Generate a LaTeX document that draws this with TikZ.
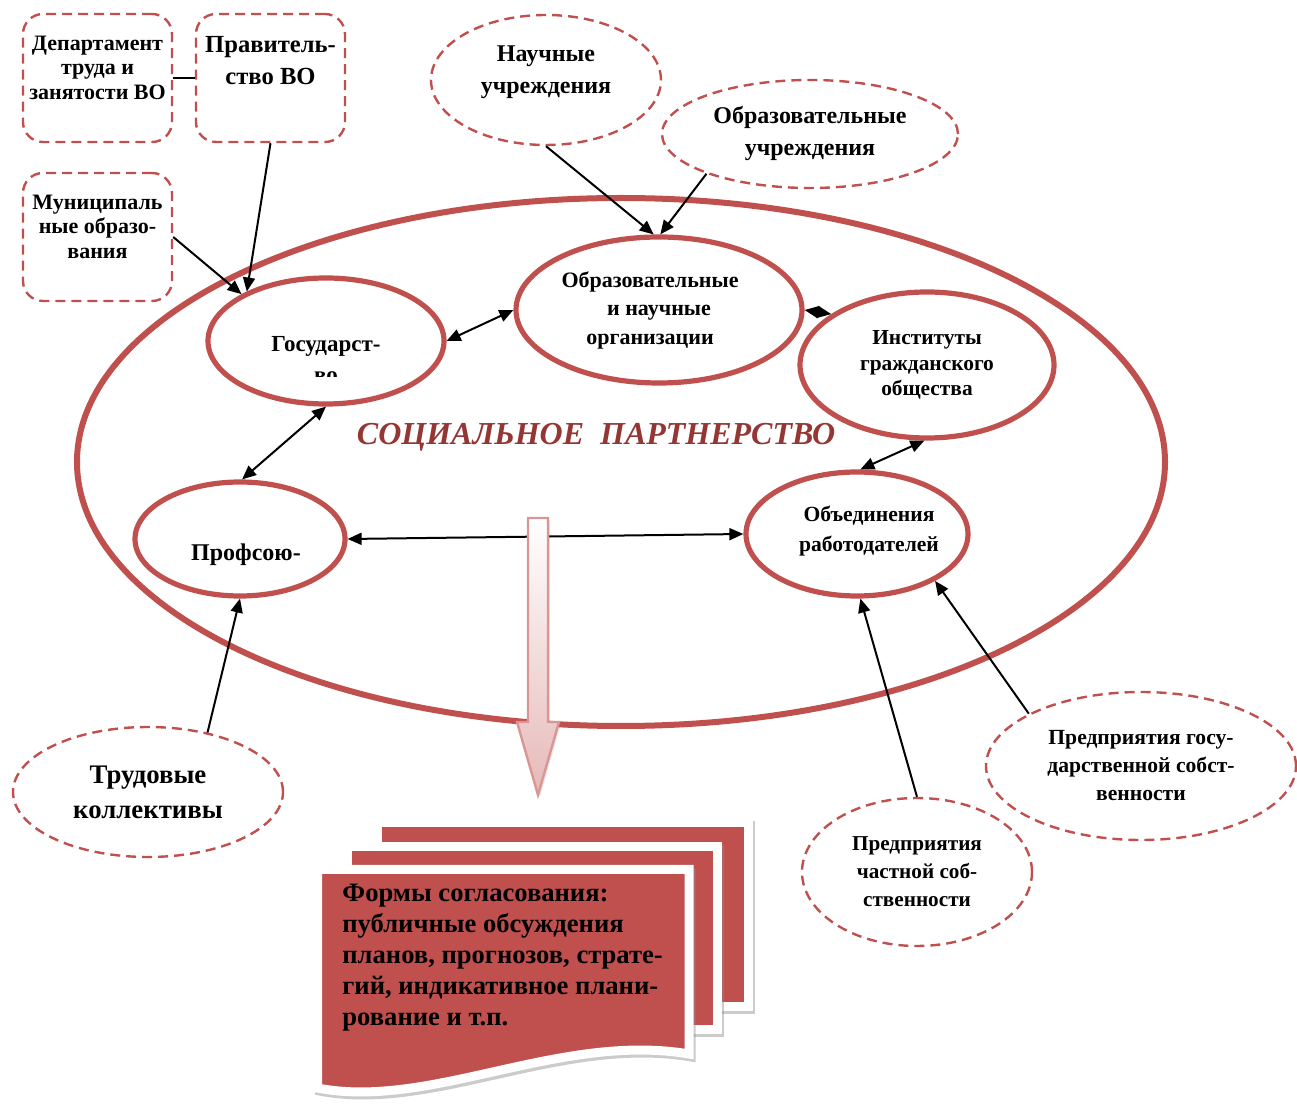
\documentclass[tikz,border=0pt]{standalone}
\usepackage{fontspec}
\setmainfont{Liberation Serif}
\usetikzlibrary{shapes.geometric}
\usetikzlibrary{arrows.meta}
\usetikzlibrary{shadows}
\definecolor{accent}{HTML}{C0504D}
\definecolor{titlered}{HTML}{943634}
\definecolor{arrowpink}{HTML}{E6B9B8}
\definecolor{arrowline}{HTML}{D99694}
\newcommand{\fsz}[2]{\fontsize{#1}{#2}\selectfont\bfseries}
\newcommand{\toptext}[1]{\parbox[c][42pt][t]{72pt}{\centering #1}}
\newcommand{\lowpad}[1]{\rule[-#1]{0pt}{#1}}
\tikzstyle{partner} = [ellipse, draw=accent, line width=2.6pt, inner sep=0pt, align=center]
\tikzstyle{source} = [ellipse, draw=accent, line width=1.2pt, dash pattern=on 5pt off 3pt,
                      inner sep=0pt, align=center]
\tikzstyle{authority} = [rectangle, rounded corners=10pt, draw=accent, line width=1.2pt,
                         dash pattern=on 5pt off 3pt, minimum width=74.5pt, minimum height=64pt,
                         inner xsep=1pt, inner ysep=11pt]
\tikzstyle{link} = [-{Triangle[length=7pt,width=6pt]}, line width=1pt]
\tikzstyle{mutual} = [{Triangle[length=7pt,width=6pt]}-{Triangle[length=7pt,width=6pt]}, line width=1pt]
\tikzstyle{sheet} = [fill=accent, draw=white, line width=4.5pt,
                     drop shadow={shadow xshift=1pt, shadow yshift=-1.5pt, opacity=0.45,
                                  fill=black!45, draw=black!45, line width=4.5pt}]

\begin{document}
\begin{tikzpicture}[x=0.5pt, y=-0.5pt]
    \useasboundingbox (0,0) rectangle (1297,1106);
    % social partnership field
    \node[ellipse, draw=accent, line width=3pt, minimum width=544pt, minimum height=264pt] (field) at (621,462) {};
    \node[text=titlered, font=\fsz{16}{18}\itshape] (title) at (596,437) {СОЦИАЛЬНОЕ~~ПАРТНЕРСТВО};
    % partners
    \node[partner, minimum width=118pt, minimum height=63pt, font=\fsz{11.5}{14}, text height=13.5pt, text depth=2.5pt] (state) at (326,341) {Государст-};
    \begin{scope}
        \clip (250,360) rectangle (400,377);
        \node[font=\fsz{11.5}{14}, anchor=base] (statetail) at (326,383) {во};
    \end{scope}
    \node[partner, minimum width=143pt, minimum height=73pt, font=\fsz{11}{14.25}] (science) at (659,310) {Образовательные\hspace*{9pt}\\и научные\hspace*{9pt}\\организации\hspace*{9pt}};
    \node[partner, minimum width=127pt, minimum height=73pt, font=\fsz{10.7}{12.75}] (civil) at (927,365) {Институты\\гражданского\\общества};
    \node[partner, minimum width=105pt, minimum height=57pt, font=\fsz{12}{14}, text height=24pt, text depth=2.6pt] (unions) at (240,539) {\hspace*{6pt}Профсою-};
    \node[partner, minimum width=111pt, minimum height=62pt, inner xsep=-3pt, font=\fsz{10.8}{15}] (employers) at (857,534) {\hspace*{12pt}Объединения\\\hspace*{12pt}работодателей\lowpad{5pt}};
    % outside sources
    \node[source, minimum width=115pt, minimum height=65pt, font=\fsz{12}{16}] (research) at (546,80) {Научные\\учреждения\lowpad{10.5pt}};
    \node[source, minimum width=148pt, minimum height=54pt, font=\fsz{12}{16}] (schools) at (810,134) {Образовательные\\учреждения};
    \node[source, minimum width=135pt, minimum height=65pt, font=\fsz{13.4}{17.5}] (staff) at (148,792) {Трудовые\\коллективы};
    \node[source, minimum width=155pt, minimum height=74pt, font=\fsz{10.8}{14}] (stateent) at (1141,766) {Предприятия госу-\\дарственной собст-\\венности};
    \node[source, minimum width=115pt, minimum height=74pt, font=\fsz{10.6}{14}] (privent) at (917,872) {Предприятия\\частной соб-\\ственности};
    % authorities
    \node[authority, font=\fsz{11}{12.25}] (labour) at (97.5,78) {\toptext{Департамент\\труда и\\занятости ВО}};
    \node[authority, font=\fsz{12.3}{16}] (govt) [right of=labour, node distance=86.5pt] {\toptext{Правитель-\\ство ВО}};
    \node[authority, font=\fsz{11}{12.25}] (municip) [below of=labour, node distance=79.5pt] {\toptext{Муниципаль\\ные образо-\\вания}};
    % connectors
    \draw[line width=1pt] (labour) -- (govt);
    \draw[link] (govt.south) -- (state.148);
    \draw[link] (municip.east) -- (state.151);
    \draw[link] (research.south) -- (science.94);
    \draw[link] (schools.201) -- (science.89);
    \draw[mutual] (state.east) -- (science.west);
    \draw[mutual] (science.east) -- (civil.152);
    \draw[mutual] (state.south) -- (unions.88);
    \draw[mutual] (civil.-92) -- (employers.87);
    \draw[mutual] (unions.east) -- (employers.west);
    \draw[link] (staff.45) -- (unions.south);
    \draw[link] (privent.north) -- (employers.-87);
    \draw[link] (stateent.155) -- (employers.-31);
    % result arrow
    \draw[arrowline, line width=1.2pt, top color=white, bottom color=arrowpink,
          drop shadow={shadow xshift=1pt, shadow yshift=-1pt, opacity=0.2}]
        (528,518) -- (548,518) -- (548,722) -- (559,722) -- (538,795) -- (517,722) -- (528,722) -- cycle;
    % forms of agreement
    \draw[sheet] (377.5,822.5) rectangle (748,1006);
    \draw[sheet] (347.5,846.5) rectangle (717.5,1029);
    \draw[sheet] (317.5,869.5) -- (689,869.5) -- (689,1054) .. controls (560,1032) and (430,1110) .. (317.5,1088) -- cycle;
    \node[anchor=north west, align=left, inner sep=0pt, font=\fsz{13.3}{15.5}] (forms) at (342,884) {Формы согласования:\\публичные обсуждения\\планов, прогнозов, страте-\\гий, индикативное плани-\\рование и т.п.};
\end{tikzpicture}
\end{document}
